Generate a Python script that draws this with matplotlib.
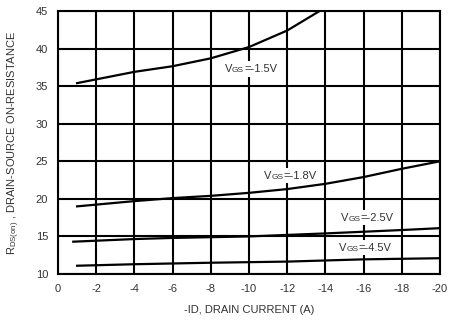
import numpy as np
import matplotlib
matplotlib.use("Agg")
import matplotlib.pyplot as plt
from matplotlib.offsetbox import TextArea, HPacker, AnnotationBbox

plt.rcParams['font.family'] = ['Liberation Sans', 'DejaVu Sans']
plt.rcParams['axes.unicode_minus'] = False

#-- data (x = -ID in A, y = RDS(on))
id_15 = [-1, -2, -4, -6, -8, -10, -12, -13.7]
rds_15 = [35.4, 35.9, 36.9, 37.65, 38.7, 40.2, 42.4, 45.0]

id_18 = [-1, -4, -6, -8, -10, -12, -14, -16, -18, -20]
rds_18 = [19.0, 19.7, 20.1, 20.4, 20.8, 21.3, 22.0, 22.9, 24.0, 25.0]

id_25 = [-0.8, -4, -6, -10, -14, -18, -20]
rds_25 = [14.3, 14.65, 14.8, 15.0, 15.4, 15.85, 16.1]

id_45 = [-1, -4, -8, -12, -16, -20]
rds_45 = [11.1, 11.3, 11.5, 11.65, 11.95, 12.1]

x_ticks = [0, -2, -4, -6, -8, -10, -12, -14, -16, -18, -20]
y_ticks = [10, 15, 20, 25, 30, 35, 40, 45]

labels = ["-1.5V", "-1.8V", "-2.5V", "-4.5V"]
label_pos = [(-10.1, 37.3), (-12.15, 23.1), (-16.2, 17.5), (-16.1, 13.5)]

fig = plt.figure(figsize=(4.51, 3.23), dpi=100)
ax = fig.add_axes([0.1286, 0.1517, 0.8470, 0.8143])

for xs, ys in [(id_15, rds_15), (id_18, rds_18), (id_25, rds_25), (id_45, rds_45)]:
    ax.plot(xs, ys, color='black', lw=1.6, zorder=3, clip_on=True)

ax.set_xlim(0, -20)
ax.set_ylim(10, 45)
ax.set_xticks(x_ticks)
ax.set_yticks(y_ticks)
ax.set_xticklabels([str(t) for t in x_ticks])
ax.set_yticklabels([str(t) for t in y_ticks])
ax.tick_params(length=0, labelsize=8, labelcolor='#333333', pad=7)
ax.grid(True, color='black', lw=1.5, zorder=1)
ax.set_axisbelow(True)
for s in ax.spines.values():
    s.set_linewidth(1.5)

# VGS labels with small "GS"
for lab, (px, py) in zip(labels, label_pos):
    parts = [TextArea("V", textprops=dict(size=8, color='#333333')),
             TextArea("GS", textprops=dict(size=6, color='#333333')),
             TextArea("=" + lab, textprops=dict(size=8, color='#333333'))]
    box = HPacker(children=parts, align="baseline", pad=0, sep=0)
    ab = AnnotationBbox(box, (px, py), frameon=True, pad=0.2, zorder=4,
                        bboxprops=dict(facecolor='white', edgecolor='none'))
    ax.add_artist(ab)

ax.set_xlabel('-ID, DRAIN CURRENT (A)', fontsize=8, color='#333333', labelpad=8)
ax.set_ylabel(r'R$_{\mathregular{DS(on)}}$ , DRAIN-SOURCE ON-RESISTANCE',
              fontsize=8, color='#333333', labelpad=10)

fig.savefig('out.png', dpi=100)
